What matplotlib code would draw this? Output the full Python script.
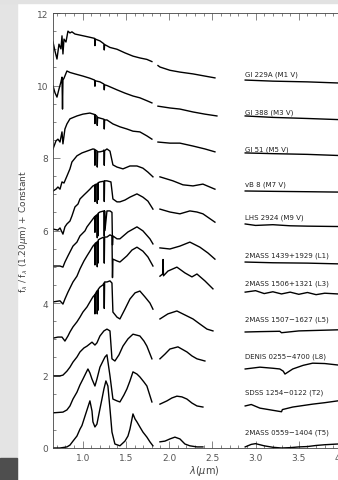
import numpy as np
import matplotlib
matplotlib.use("Agg")
import matplotlib.pyplot as plt
from matplotlib.ticker import MultipleLocator, FormatStrFormatter
from matplotlib.patches import Rectangle

# spectra: wavelength (micron) and f_lambda/f(1.20) + constant
# each list holds the 0.65-1.8, 1.87-2.55 and 2.88-4.15 micron pieces in order
lam_gl229a = [0.657, 0.680, 0.703, 0.726, 0.749, 0.761, 0.772, 0.784, 0.807, 0.830, 0.853, 0.876, 0.911, 0.969, 1.027,
              1.084, 1.138, 1.142, 1.146, 1.200, 1.246, 1.250, 1.254, 1.316, 1.397, 1.489, 1.582, 1.662, 1.743, 1.801,
              1.871, 1.894, 2.009, 2.125, 2.276, 2.414, 2.530,
              2.88, 3.20, 3.60, 3.95, 4.15]
f_gl229a = [11.20, 10.95, 10.73, 11.14, 11.01, 11.37, 10.87, 11.28, 11.20, 11.50, 11.45, 11.48, 11.42, 11.39, 11.36,
            11.33, 11.30, 11.10, 11.28, 11.23, 11.15, 10.98, 11.13, 11.05, 11.00, 10.90, 10.81, 10.76, 10.72, 10.66,
            10.55, 10.51, 10.42, 10.37, 10.32, 10.26, 10.21,
            10.15, 10.12, 10.10, 10.07, 10.05]

lam_gl388 = [0.657, 0.680, 0.703, 0.726, 0.749, 0.761, 0.767, 0.772, 0.784, 0.818, 0.853, 0.911, 1.003, 1.084,
             1.138, 1.142, 1.146, 1.200, 1.246, 1.250, 1.254, 1.281, 1.397, 1.489, 1.582, 1.662, 1.743, 1.801,
             1.871, 2.009, 2.125, 2.276, 2.414, 2.553,
             2.88, 3.20, 3.60, 3.95, 4.15]
f_gl388 = [9.99, 9.80, 9.68, 9.90, 10.10, 10.23, 9.35, 10.15, 10.20, 10.40, 10.36, 10.32, 10.26, 10.20,
           10.15, 9.98, 10.13, 10.10, 10.04, 9.88, 10.02, 10.00, 9.88, 9.79, 9.71, 9.66, 9.58, 9.52,
           9.43, 9.38, 9.35, 9.27, 9.21, 9.16,
           9.16, 9.12, 9.09, 9.06, 9.05]

lam_gl51 = [0.657, 0.691, 0.714, 0.738, 0.761, 0.772, 0.795, 0.818, 0.853, 0.934, 1.003, 1.084, 1.138, 1.142, 1.146,
            1.165, 1.169, 1.173, 1.200, 1.246, 1.250, 1.254, 1.281, 1.350, 1.431, 1.512, 1.582, 1.662, 1.743, 1.801,
            1.871, 2.009, 2.125, 2.276, 2.414, 2.530,
            2.88, 3.20, 3.60, 3.95, 4.15]
f_gl51 = [8.25, 8.47, 8.52, 8.44, 8.72, 8.39, 8.80, 8.94, 9.08, 9.16, 9.21, 9.24, 9.20, 8.95, 9.19,
          9.15, 8.90, 9.12, 9.10, 9.07, 8.80, 9.05, 9.05, 8.94, 8.86, 8.80, 8.74, 8.72, 8.61, 8.52,
          8.44, 8.41, 8.41, 8.33, 8.25, 8.17,
          8.14, 8.12, 8.10, 8.07, 8.05]

lam_vb8 = [0.657, 0.691, 0.714, 0.738, 0.761, 0.784, 0.818, 0.853, 0.876, 0.934, 0.992, 1.050, 1.119, 1.138, 1.142,
           1.146, 1.165, 1.169, 1.173, 1.200, 1.235, 1.246, 1.250, 1.254, 1.281, 1.316, 1.350, 1.397, 1.466, 1.547,
           1.628, 1.697, 1.755, 1.813,
           1.894, 2.044, 2.160, 2.276, 2.391, 2.530,
           2.88, 3.20, 3.60, 3.95, 4.15]
f_vb8 = [7.09, 7.14, 7.20, 7.14, 7.34, 7.31, 7.50, 7.70, 7.89, 8.06, 8.14, 8.19, 8.25, 8.24, 7.80,
         8.22, 8.20, 7.75, 8.17, 8.17, 8.19, 8.22, 7.80, 8.20, 8.25, 8.19, 7.81, 7.75, 7.70, 7.78,
         7.78, 7.72, 7.61, 7.48,
         7.48, 7.37, 7.26, 7.23, 7.28, 7.14,
         7.09, 7.08, 7.07, 7.06, 7.05]

lam_lhs2924 = [0.657, 0.714, 0.738, 0.772, 0.795, 0.818, 0.853, 0.876, 0.911, 0.946, 0.969, 1.015, 1.050, 1.084,
               1.119, 1.138, 1.142, 1.146, 1.165, 1.169, 1.173, 1.177, 1.181, 1.200, 1.246, 1.250, 1.254, 1.281,
               1.327, 1.350, 1.397, 1.431, 1.489, 1.547, 1.628, 1.697, 1.755, 1.813,
               1.894, 2.009, 2.125, 2.240, 2.322, 2.391, 2.530,
               2.88, 3.00, 3.20, 3.40, 3.60, 3.95, 4.15]
f_lhs2924 = [6.04, 6.01, 6.07, 5.90, 6.10, 6.18, 6.26, 6.40, 6.65, 6.73, 6.87, 6.98, 7.06, 7.14,
             7.23, 7.25, 6.80, 7.27, 7.28, 6.75, 7.30, 6.85, 7.32, 7.34, 7.36, 6.80, 7.37, 7.37,
             7.34, 6.87, 6.79, 6.79, 6.84, 6.92, 7.01, 6.92, 6.81, 6.59,
             6.59, 6.51, 6.46, 6.54, 6.51, 6.46, 6.23,
             6.18, 6.14, 6.16, 6.13, 6.12, 6.11, 6.10]

lam_2m1439 = [0.657, 0.738, 0.772, 0.795, 0.830, 0.888, 0.934, 0.969, 1.027, 1.050, 1.119, 1.138, 1.142, 1.146,
              1.165, 1.169, 1.173, 1.177, 1.181, 1.200, 1.246, 1.250, 1.254, 1.258, 1.281, 1.316, 1.339, 1.345,
              1.350, 1.397, 1.431, 1.524, 1.628, 1.697, 1.778, 1.813,
              1.894, 2.009, 2.125, 2.240, 2.356, 2.449, 2.530,
              2.88, 3.20, 3.60, 3.95, 4.15]
f_2m1439 = [5.02, 5.02, 4.99, 5.13, 5.30, 5.57, 5.68, 5.85, 5.99, 6.10, 6.32, 6.38, 5.95, 6.40,
            6.43, 5.80, 6.45, 5.85, 6.48, 6.51, 6.54, 5.85, 6.54, 6.00, 6.54, 6.54, 6.50, 5.60,
            5.85, 5.77, 5.77, 5.96, 6.10, 5.99, 5.77, 5.63,
            5.52, 5.49, 5.57, 5.68, 5.54, 5.38, 5.21,
            5.13, 5.11, 5.10, 5.08, 5.07]

lam_2m1506 = [0.657, 0.738, 0.772, 0.795, 0.830, 0.888, 0.934, 0.969, 1.015, 1.050, 1.084, 1.119, 1.138, 1.142,
              1.146, 1.165, 1.169, 1.173, 1.177, 1.181, 1.200, 1.246, 1.250, 1.254, 1.281, 1.316, 1.339, 1.345,
              1.350, 1.397, 1.431, 1.512, 1.570, 1.628, 1.697, 1.755, 1.813,
              1.894, 1.925, 1.930, 1.935, 1.986, 2.090, 2.183, 2.264, 2.322, 2.414, 2.507,
              2.88, 3.00, 3.10, 3.20, 3.30, 3.40, 3.50, 3.60, 3.70, 3.80, 3.95, 4.15]
f_2m1506 = [4.03, 4.06, 3.97, 4.11, 4.30, 4.58, 4.74, 4.94, 5.16, 5.30, 5.43, 5.57, 5.62, 5.05,
            5.65, 5.68, 5.00, 5.70, 5.10, 5.74, 5.77, 5.82, 5.10, 5.82, 5.82, 5.88, 5.85, 4.70,
            5.21, 5.16, 5.13, 5.30, 5.46, 5.54, 5.43, 5.27, 5.02,
            4.74, 4.80, 5.20, 4.75, 4.88, 4.99, 4.83, 4.72, 4.80, 4.61, 4.39,
            4.30, 4.34, 4.26, 4.31, 4.25, 4.30, 4.24, 4.29, 4.23, 4.27, 4.25, 4.24]

lam_2m1507 = [0.657, 0.714, 0.761, 0.795, 0.830, 0.853, 0.888, 0.934, 0.969, 1.003, 1.050, 1.084, 1.119, 1.138,
              1.142, 1.146, 1.165, 1.169, 1.173, 1.177, 1.181, 1.200, 1.235, 1.246, 1.250, 1.254, 1.281, 1.316,
              1.339, 1.350, 1.397, 1.431, 1.489, 1.547, 1.606, 1.662, 1.720, 1.778, 1.813,
              1.894, 1.986, 2.090, 2.183, 2.276, 2.356, 2.438, 2.507,
              2.88, 3.05, 3.28, 3.30, 3.50, 3.80, 3.95, 4.15]
f_2m1507 = [3.03, 3.06, 3.06, 2.95, 3.09, 3.20, 3.34, 3.48, 3.61, 3.75, 3.89, 4.03, 4.17, 4.22,
            3.70, 4.25, 4.33, 3.70, 4.35, 3.80, 4.38, 4.44, 4.50, 4.55, 3.85, 4.58, 4.58, 4.61,
            4.55, 3.75, 3.61, 3.56, 3.83, 4.11, 4.28, 4.33, 4.17, 4.00, 3.83,
            3.56, 3.70, 3.78, 3.67, 3.56, 3.42, 3.28, 3.23,
            3.20, 3.21, 3.22, 3.18, 3.23, 3.25, 3.26, 3.27]

lam_d0255 = [0.657, 0.738, 0.772, 0.818, 0.853, 0.888, 0.934, 0.969, 1.015, 1.050, 1.108, 1.142, 1.165, 1.200,
             1.246, 1.281, 1.316, 1.339, 1.373, 1.420, 1.466, 1.524, 1.582, 1.662, 1.709, 1.743, 1.801,
             1.894, 1.952, 2.009, 2.102, 2.206, 2.264, 2.322, 2.414,
             2.88, 3.05, 3.20, 3.28, 3.32, 3.34, 3.43, 3.55, 3.66, 3.80, 3.95, 4.15]
f_d0255 = [1.99, 1.99, 2.01, 2.12, 2.23, 2.37, 2.51, 2.65, 2.76, 2.81, 2.92, 2.84, 2.90, 3.09,
           3.23, 3.28, 3.23, 2.46, 2.40, 2.57, 2.81, 3.01, 3.14, 3.09, 2.95, 2.81, 2.46,
           2.46, 2.59, 2.73, 2.79, 2.65, 2.54, 2.46, 2.40,
           2.18, 2.23, 2.20, 2.18, 2.12, 2.04, 2.18, 2.28, 2.34, 2.33, 2.29, 2.30]

lam_s1254 = [0.657, 0.772, 0.818, 0.853, 0.888, 0.934, 0.969, 1.003, 1.038, 1.061, 1.084, 1.108, 1.142, 1.165,
             1.200, 1.235, 1.258, 1.281, 1.316, 1.350, 1.397, 1.431, 1.477, 1.512, 1.547, 1.582, 1.628, 1.662,
             1.709, 1.743, 1.801,
             1.894, 1.975, 2.032, 2.090, 2.148, 2.206, 2.264, 2.322, 2.391,
             2.88, 2.95, 3.05, 3.15, 3.25, 3.30, 3.31, 3.43, 3.66, 3.80, 3.95, 4.15]
f_s1254 = [0.97, 0.99, 1.05, 1.16, 1.35, 1.54, 1.74, 1.90, 2.07, 2.18, 2.07, 1.90, 1.71, 1.90,
           2.23, 2.40, 2.51, 2.57, 1.99, 1.35, 1.30, 1.27, 1.46, 1.63, 1.85, 2.10, 2.04, 1.96,
           1.82, 1.71, 1.27,
           1.21, 1.30, 1.38, 1.43, 1.41, 1.35, 1.24, 1.16, 1.13,
           1.16, 1.20, 1.10, 1.06, 1.02, 1.00, 1.06, 1.13, 1.21, 1.25, 1.30, 1.33]

lam_2m0559 = [0.657, 0.738, 0.818, 0.853, 0.888, 0.934, 0.969, 0.992, 1.027, 1.061, 1.084, 1.108, 1.119, 1.142,
              1.165, 1.200, 1.223, 1.246, 1.269, 1.292, 1.316, 1.339, 1.373, 1.431, 1.489, 1.524, 1.547, 1.582,
              1.606, 1.628, 1.662, 1.697, 1.743, 1.778, 1.813,
              1.894, 1.952, 2.009, 2.067, 2.125, 2.183, 2.240, 2.322, 2.391,
              2.88, 2.95, 3.00, 3.10, 3.20, 3.30, 3.40, 3.50, 3.60, 3.70, 3.80, 3.95, 4.15]
f_2m0559 = [0.00, 0.00, 0.03, 0.08, 0.19, 0.33, 0.52, 0.62, 0.88, 1.13, 1.30, 1.02, 0.72, 0.58,
            0.66, 1.08, 1.35, 1.63, 1.85, 1.71, 1.08, 0.44, 0.11, 0.06, 0.19, 0.33, 0.52, 0.94,
            0.80, 0.72, 0.58, 0.44, 0.30, 0.17, 0.06,
            0.17, 0.19, 0.25, 0.30, 0.25, 0.11, 0.06, 0.03, 0.03,
            0.03, 0.10, 0.12, 0.06, 0.02, 0.00, 0.01, 0.03, 0.04, 0.07, 0.09, 0.11, 0.12]

names = ["Gl 229A (M1 V)", "Gl 388 (M3 V)", "Gl 51 (M5 V)", "vB 8 (M7 V)", "LHS 2924 (M9 V)",
         "2MASS 1439+1929 (L1)", "2MASS 1506+1321 (L3)", "2MASS 1507\u22121627 (L5)",
         "DENIS 0255\u22124700 (L8)", "SDSS 1254\u22120122 (T2)", "2MASS 0559\u22121404 (T5)"]
lams = [lam_gl229a, lam_gl388, lam_gl51, lam_vb8, lam_lhs2924, lam_2m1439,
        lam_2m1506, lam_2m1507, lam_d0255, lam_s1254, lam_2m0559]
fluxes = [f_gl229a, f_gl388, f_gl51, f_vb8, f_lhs2924, f_2m1439,
          f_2m1506, f_2m1507, f_d0255, f_s1254, f_2m0559]

# where the object names sit (data coords)
label_x = 2.88
label_y = [10.32, 9.27, 8.25, 7.28, 6.37, 5.32, 4.55, 3.56, 2.54, 1.54, 0.44]

W, H = 338, 481
fig = plt.figure(figsize=(W / 100, H / 100), dpi=100)
fig.patch.set_facecolor("white")

# page edges of the screenshot
fig.patches.append(Rectangle((0, 0), 17 / W, 1, transform=fig.transFigure, color="#e4e4e4", zorder=-2))
fig.patches.append(Rectangle((0, 0), 17 / W, 22 / H, transform=fig.transFigure, color="#4e4e4e", zorder=-1))
fig.patches.append(Rectangle((0, 1 - 4 / H), 1, 4 / H, transform=fig.transFigure, color="#e2e2e2", zorder=-1))

# axes run past the right edge (the figure is cropped there)
ax = fig.add_axes([53 / W, 32 / H, 302 / W, 435 / H])

bands = [(0.0, 1.84), (1.84, 2.7), (2.7, 5.0)]
for lam, fl in zip(lams, fluxes):
    lam = np.asarray(lam)
    fl = np.asarray(fl)
    for lo, hi in bands:
        m = (lam > lo) & (lam < hi)
        ax.plot(lam[m], fl[m], color="black", lw=1.0)

for name, y in zip(names, label_y):
    ax.text(label_x, y, name, fontsize=5, color="#222222", ha="left", va="center")

ax.set_xlim(0.657, 4.15)
ax.set_ylim(0, 12)
ax.xaxis.set_major_locator(MultipleLocator(0.5))
ax.xaxis.set_minor_locator(MultipleLocator(0.1))
ax.xaxis.set_major_formatter(FormatStrFormatter("%.1f"))
ax.yaxis.set_major_locator(MultipleLocator(2))
ax.yaxis.set_minor_locator(MultipleLocator(0.5))
ax.tick_params(which="both", direction="in", top=True, right=True, colors="#555555",
               labelsize=6.5, width=0.5)
ax.tick_params(which="major", length=5)
ax.tick_params(which="minor", length=2.5)
for s in ax.spines.values():
    s.set_linewidth(0.6)
    s.set_color("#444444")

ax.set_xlabel(r"$\lambda(\mu$m)", fontsize=7, color="#444444", labelpad=1)
ax.set_ylabel(r"f$_\lambda$ / f$_\lambda$ (1.20$\mu$m) + Constant", fontsize=6.5, color="#444444", labelpad=5)

fig.savefig("out.png", dpi=100)
